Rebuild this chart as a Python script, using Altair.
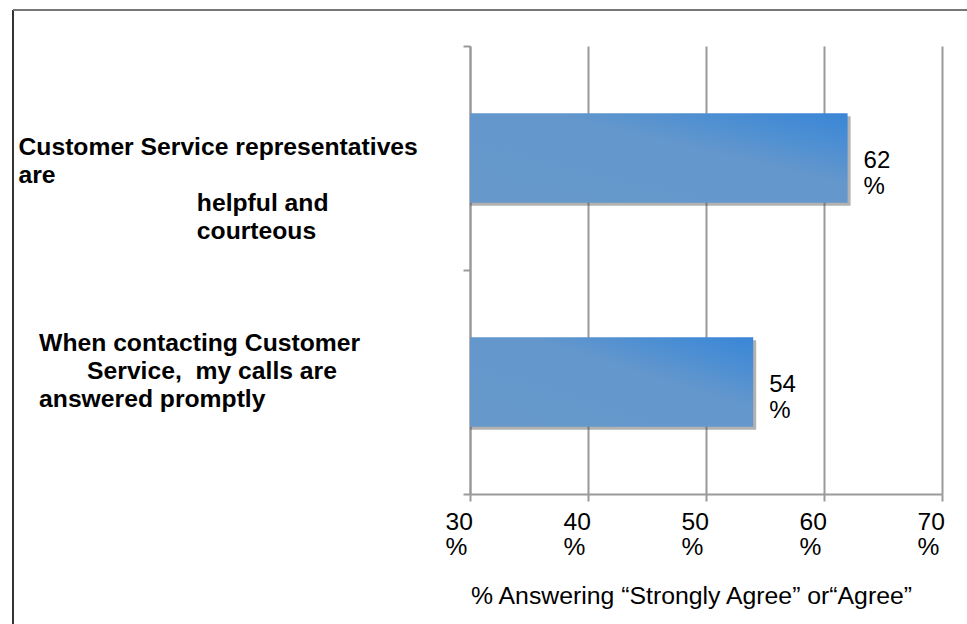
import altair as alt
import pandas as pd

NB = "\u00a0"
ZW = "\u200b"  # keeps leading indentation from being trimmed

# Category labels (multi-line, as laid out in the reference)
categories = [
    "\n\n\nCustomer Service representatives\nare\n"
    + ZW + NB * 26 + "helpful and\n" + ZW + NB * 26 + "courteous",
    ZW + NB * 3 + "When contacting Customer\n"
    + ZW + NB * 10 + "Service," + NB * 2 + "my calls are\n"
    + ZW + NB * 3 + "answered promptly",
]
values = [62, 54]
x_ticks = [30, 40, 50, 60, 70]
x_title = "% Answering \u201cStrongly Agree\u201d or\u201cAgree\u201d"

df = pd.DataFrame({"category": categories, "value": values})

FONT = "Liberation Sans"
GRID = "#9a9a9a"

y_enc = alt.Y(
    "category:N",
    sort=None,
    scale=alt.Scale(paddingInner=0, paddingOuter=0),
    axis=alt.Axis(
        title=None,
        domainColor=GRID,
        domainWidth=2,
        tickColor=GRID,
        tickWidth=2,
        tickSize=7,
        tickBand="extent",
        grid=False,
        labelExpr="split(datum.label, '\\n')",
        labelAlign="left",
        labelBaseline="middle",
        labelPadding=445,
        labelLimit=2000,
        labelFont=FONT,
        labelFontSize=24.7,
        labelFontWeight="bold",
        labelColor="#000000",
        labelLineHeight=28,
        labelOffset=-39,
    ),
)

x_enc = alt.X(
    "value:Q",
    scale=alt.Scale(domain=[x_ticks[0], x_ticks[-1]], nice=False, zero=False),
    axis=alt.Axis(
        values=x_ticks,
        title=x_title,
        domainColor=GRID,
        domainWidth=2,
        tickColor=GRID,
        tickWidth=2,
        tickSize=7,
        grid=True,
        gridColor=GRID,
        gridWidth=2,
        labelExpr="[datum.label, '%']",
        labelAlign="left",
        labelBaseline="top",
        labelOffset=-25,
        labelPadding=9,
        labelFlush=False,
        labelFont=FONT,
        labelFontSize=24.6,
        labelColor="#000000",
        labelLineHeight=25,
        titleFont=FONT,
        titleFontSize=24.8,
        titleFontWeight="normal",
        titleColor="#000000",
        titleX=221,
        titleY=109,
        titleAlign="center",
        titleBaseline="alphabetic",
    ),
)
x2_enc = alt.X2(datum=x_ticks[0])

base = alt.Chart(df)

shadow = base.mark_bar(
    height=alt.RelativeBandSize(0.4), color="#555555", opacity=0.45, xOffset=3, yOffset=3
).encode(x=x_enc, x2=x2_enc, y=y_enc)

bars = base.mark_bar(
    height=alt.RelativeBandSize(0.4),
    color=alt.Gradient(
        gradient="linear",
        stops=[
            alt.GradientStop(offset=0, color="#6698cb"),
            alt.GradientStop(offset=0.6, color="#6497cc"),
            alt.GradientStop(offset=0.82, color="#4b8ed3"),
            alt.GradientStop(offset=1, color="#3986d7"),
        ],
        x1=0, y1=1, x2=1, y2=0,
    ),
).encode(x=x_enc, x2=x2_enc, y=y_enc)

labels = base.mark_text(
    align="left", baseline="alphabetic", dx=16, dy=10,
    font=FONT, fontSize=24, color="#000000", lineBreak="\n", lineHeight=26,
).transform_calculate(
    lbl="format(datum.value, 'd') + '\\n%'"
).encode(x=x_enc, y=y_enc, text="lbl:N")

frame_data = alt.Data(values=[{"f": 1}])
left_border = alt.Chart(frame_data).mark_rule(color="#333333", strokeWidth=2).encode(
    x=alt.value(-457), y=alt.value(-36), y2=alt.value(578)
)
top_border = alt.Chart(frame_data).mark_rule(color="#777777", strokeWidth=2).encode(
    x=alt.value(-457), x2=alt.value(497), y=alt.value(-36)
)

chart = alt.layer(shadow, bars, labels, left_border, top_border).properties(
    width=472,
    height=448,
    autosize=alt.AutoSizeParams(type="none"),
    padding={"left": 470, "top": 46, "right": 25, "bottom": 130},
    background="#ffffff",
).configure_view(stroke=None)

chart.save("out.html", embed_options={"renderer": "svg", "actions": False})
